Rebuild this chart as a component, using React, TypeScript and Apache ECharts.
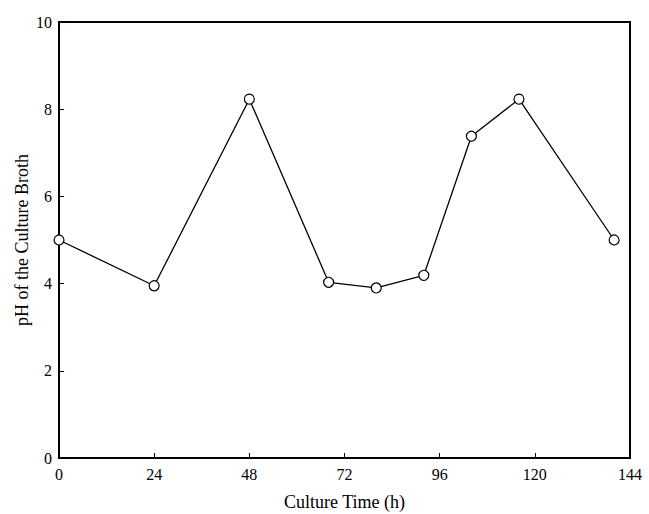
import React, { useEffect, useRef } from "react";
import * as echarts from "echarts";

const cultureTime = [0, 24, 48, 68, 80, 92, 104, 116, 140];
const phValues = [5.0, 3.95, 8.23, 4.03, 3.9, 4.19, 7.38, 8.23, 5.0];

const xTitle = "Culture Time (h)";
const yTitle = "pH of the Culture Broth";

export default function App() {
  const ref = useRef<HTMLDivElement>(null);
  useEffect(() => {
    if (!ref.current) return;
    const chart = echarts.init(ref.current, null, { renderer: "svg" });
    const font = "'Liberation Serif', 'Times New Roman', serif";
    chart.setOption({
      animation: false,
      backgroundColor: "#fff",
      textStyle: { fontFamily: font },
      grid: {
        left: 59,
        right: 19,
        top: 22,
        bottom: 56,
        containLabel: false,
        outerBoundsMode: "none",
        show: true,
        borderColor: "#000",
        borderWidth: 2,
      },
      xAxis: {
        type: "value",
        min: 0,
        max: 144,
        interval: 24,
        name: xTitle,
        nameLocation: "middle",
        nameGap: 35,
        nameTextStyle: { fontSize: 18, color: "#000", fontFamily: font },
        axisLine: { lineStyle: { color: "#000", width: 2 } },
        axisTick: { inside: true, length: 5, lineStyle: { color: "#000", width: 1 } },
        axisLabel: { color: "#000", fontSize: 16, margin: 8, fontFamily: font },
        splitLine: { show: false },
      },
      yAxis: {
        type: "value",
        min: 0,
        max: 10,
        interval: 2,
        name: yTitle,
        nameLocation: "middle",
        nameGap: 28,
        nameMoveOverlap: false,
        nameTextStyle: { fontSize: 18, color: "#000", fontFamily: font },
        axisLine: { lineStyle: { color: "#000", width: 2 } },
        axisTick: { inside: true, length: 5, lineStyle: { color: "#000", width: 1 } },
        axisLabel: { color: "#000", fontSize: 16, margin: 7, fontFamily: font },
        splitLine: { show: false },
      },
      series: [
        {
          type: "line",
          data: cultureTime.map((t, i) => [t, phValues[i]]),
          symbol: "circle",
          symbolSize: 10,
          itemStyle: { color: "#fff", borderColor: "#000", borderWidth: 1.2 },
          lineStyle: { color: "#000", width: 1.3 },
        },
      ],
    });
    return () => chart.dispose();
  }, []);
  return (
    <div
      ref={ref}
      style={{ position: "fixed", left: 0, top: 0, width: 649, height: 514 }}
    />
  );
}
